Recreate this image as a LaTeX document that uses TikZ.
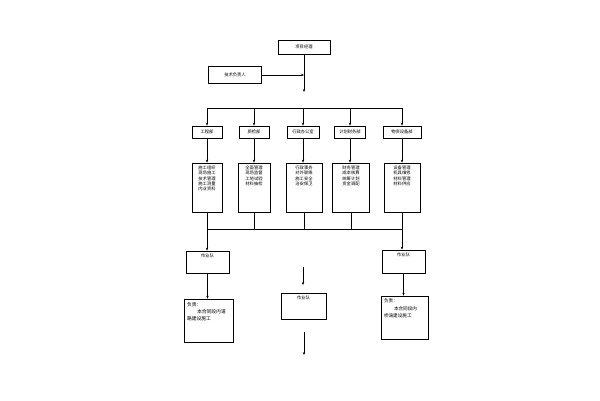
\documentclass[tikz,border=0pt]{standalone}
\usepackage{fontspec}
\newfontfamily\cjk{Noto Sans CJK SC}
\usetikzlibrary{positioning,arrows.meta}

\begin{document}
\begin{tikzpicture}[x=1pt,y=-1pt,
    every node/.style={font=\cjk\fontsize{4.3}{5.3}\selectfont},
    box/.style={draw,line width=0.6pt,inner sep=3pt},
    arr/.style={-{Stealth[length=3pt,width=2.4pt]},line width=0.6pt},
    ln/.style={line width=0.6pt}]
        \useasboundingbox (0,0) rectangle (600,400);

        % top
        \node [box,minimum width=52pt,minimum height=14pt] (pm) at (304,47) {项目经理};
        \node [box,minimum width=53pt,minimum height=17pt] (tech) at (235,75) {技术负责人};
        \coordinate (pmend) at (304,92);
        \coordinate (techend) at (pm.south |- tech.east);
        \draw [arr] (pm) -- (pmend);
        \draw [arr] (tech) -- (techend);

        % departments
        \node [box,minimum width=30pt,minimum height=12pt] (gcb) at (207,132) {工程部};
        \node [box,minimum width=30pt,minimum height=12pt] (zjb) at (254,132) {质检部};
        \node [box,minimum width=32pt,minimum height=12pt] (xzb) at (303,132) {行政办公室};
        \node [box,minimum width=31pt,minimum height=12pt] (cwb) at (350,132) {计划财务部};
        \node [box,minimum width=38pt,minimum height=12pt] (wzb) at (402,132) {物资设备部};

        \node [box] (gcbd) at (207,187.5) {\parbox[c][43pt][t]{24pt}{\centering 施工组织\\现场施工\\技术管理\\施工测量\\内业资料}};
        \node [box] (zjbd) at (254,187.5) {\parbox[c][43pt][t]{26pt}{\centering 全面管理\\现场监督\\工地试验\\材料抽检}};
        \node [box] (xzbd) at (304,187.5) {\parbox[c][43pt][t]{30pt}{\centering 行政事务\\对外联络\\施工安全\\治安保卫}};
        \node [box] (cwbd) at (351,187.5) {\parbox[c][43pt][t]{31pt}{\centering 财务管理\\成本核算\\统筹计划\\资金调配}};
        \node [box] (wzbd) at (402,187.5) {\parbox[c][43pt][t]{30pt}{\centering 设备管理\\机具维修\\材料管理\\材料供应}};

        \coordinate (topbus) at (0,108);
        \coordinate (botbus) at (0,229);
        \draw [ln] (gcb.north |- topbus) -- (wzb.north |- topbus);
        \draw [ln] (gcbd.south |- botbus) -- (wzbd.south |- botbus);
        \foreach \d in {gcb,zjb,xzb,cwb,wzb} {
            \draw [arr] (\d.north |- topbus) -- (\d.north);
            \draw [arr] (\d.south) -- (\d.south |- \d d.north);
            \draw [ln] (\d d.south) -- (\d d.south |- botbus);
        }

        % work teams
        \node [box] (tl) at (207.5,262) {\parbox[c][16pt][t]{37pt}{\centering 作业队}};
        \node [box] (tr) at (403.5,261.5) {\parbox[c][17pt][t]{37pt}{\centering 作业队}};
        \node [box] (tm) at (303.5,306) {\parbox[c][20pt][t]{39pt}{\centering 作业队}};

        \node [box,font=\cjk\fontsize{4.8}{7.2}\selectfont] (bl) at (208.5,320.5)
            {\parbox[c][37pt][t]{43pt}{\raggedright 负责：\\\hspace*{10pt}本合同段内道\\路建设施工}};
        \node [box,font=\cjk\fontsize{4.6}{7.2}\selectfont] (br) at (404.5,317.5)
            {\parbox[c][37pt][t]{41pt}{\raggedright 负责：\\\hspace*{10pt}本合同段内\\桥涵建设施工}};

        \draw [arr] (gcbd.south |- botbus) -- (gcbd.south |- tl.north);
        \draw [arr] (wzbd.south |- botbus) -- (wzbd.south |- tr.north);
        \draw [arr] (tl.south) -- (tl.south |- bl.north);
        \draw [arr] (tr.south) -- (tr.south |- br.north);

        \coordinate (ma) at (303,267);
        \coordinate (mb) at (303,285);
        \coordinate (mc) at (304,332);
        \coordinate (md) at (304,355);
        \draw [arr] (ma) -- (mb);
        \draw [arr] (mc) -- (md);
    \end{tikzpicture}
\end{document}
